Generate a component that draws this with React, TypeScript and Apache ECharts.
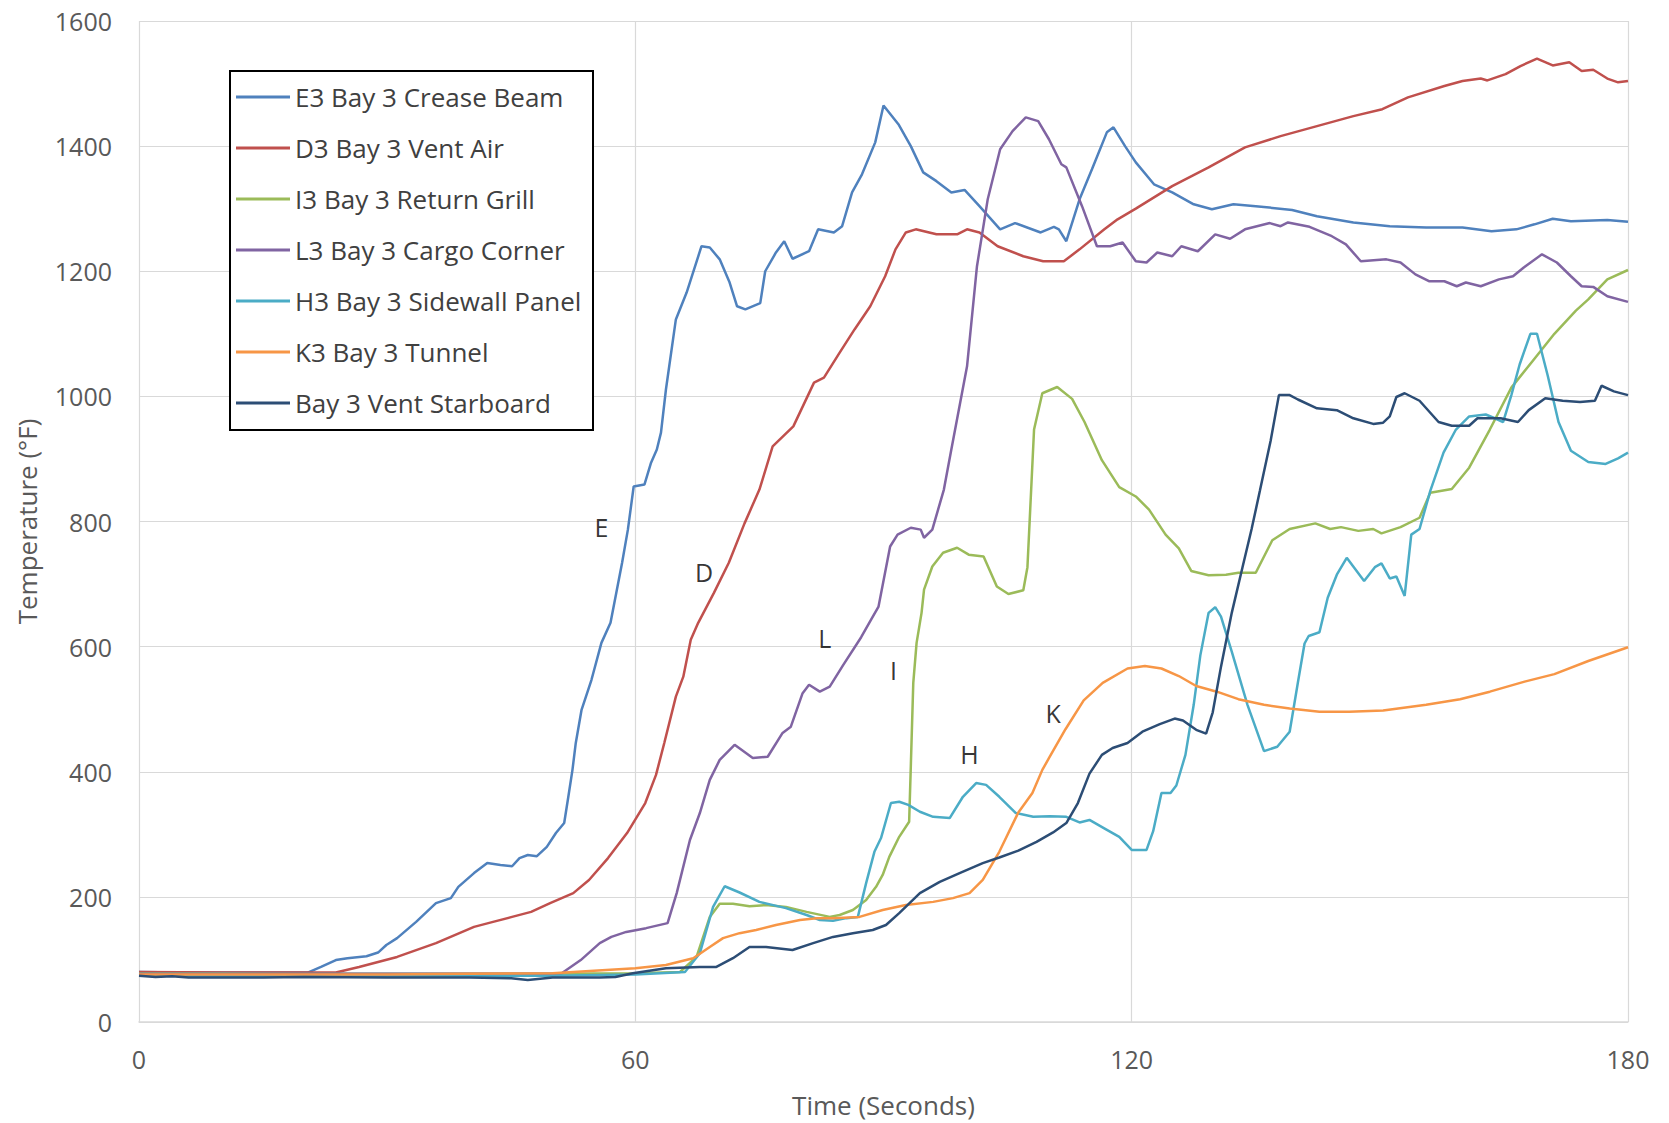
import React, { useEffect, useRef } from "react";
import * as echarts from "echarts";

const seriesNames = [
  "E3 Bay 3 Crease Beam",
  "D3 Bay 3 Vent Air",
  "I3 Bay 3 Return Grill",
  "L3 Bay 3 Cargo Corner",
  "H3 Bay 3 Sidewall Panel",
  "K3 Bay 3 Tunnel",
  "Bay 3 Vent Starboard",
];
const seriesColors = ["#4F81BD", "#C0504D", "#9BBB59", "#8064A2", "#4BACC6", "#F79646", "#2C4D75"];

const xTicks = [0, 60, 120, 180];
const yTicks = [0, 200, 400, 600, 800, 1000, 1200, 1400, 1600];

const e3 = [[0,80],[5,79],[10,79],[15,79],[20.4,79],[22,88],[23.8,99],[25.2,102],[27.5,105],[28.9,111],[29.9,123],[31.2,134],[33.5,160],[35.9,190],[37.7,198],[38.6,216],[40.5,238],[42.1,254],[43.7,251],[45.1,249],[46,262],[47,267],[48.1,265],[49.3,280],[50.4,302],[51.4,318],[51.9,360],[52.4,403],[52.8,446],[53.5,499],[54.7,547],[55.9,606],[57,638],[57.7,686],[58.4,734],[59.1,787],[59.8,856],[61.1,859],[61.9,894],[62.6,915],[63.1,942],[63.7,1011],[64.9,1123],[66.2,1166],[68,1240],[69,1238],[70.2,1219],[71.4,1182],[72.3,1144],[73.3,1139],[75.1,1149],[75.7,1200],[77,1230],[78,1248],[79,1220],[81,1232],[82.1,1267],[84,1262],[85,1272],[86.2,1326],[87.4,1355],[89,1406],[90,1465],[91.8,1435],[93.3,1400],[94.8,1358],[96.4,1344],[98.2,1326],[99.8,1330],[101.6,1304],[104.1,1267],[105.9,1277],[109,1262],[110.6,1271],[111.2,1267],[112.1,1248],[113.7,1315],[115.2,1363],[117,1422],[117.8,1430],[119.2,1400],[120.5,1374],[122.7,1339],[124.9,1326],[127.5,1307],[129.7,1299],[132.3,1307],[135,1304],[139.4,1298],[142.4,1288],[146.8,1278],[151.2,1272],[155.6,1270],[160,1270],[163.5,1264],[166.5,1267],[168.7,1275],[170.9,1284],[173.1,1280],[177.5,1282],[180,1279]];

const d3 = [[0,80],[10,79],[20,79],[23.8,79],[26.6,88],[31.2,104],[35.9,126],[40.5,152],[42.8,160],[45.1,168],[47.4,176],[49.7,190],[52.5,206],[54.4,227],[56.7,262],[59,302],[61.2,350],[62.5,395],[63.5,446],[64.9,520],[65.8,552],[66.7,611],[67.6,638],[69.5,686],[71.3,734],[73.2,797],[75,851],[76.6,920],[79.1,952],[81.6,1022],[82.8,1030],[84.7,1070],[86.5,1107],[88.4,1144],[90.2,1192],[91.45,1235],[92.7,1262],[93.9,1267],[96.4,1259],[98.9,1259],[100.1,1267],[101.6,1262],[103.8,1240],[106.9,1224],[109.3,1216],[111.8,1216],[113.7,1235],[116.7,1267],[118.3,1283],[120.5,1300],[124.9,1336],[129.3,1366],[133.7,1398],[138,1416],[142.4,1432],[146.8,1448],[150.3,1459],[153.4,1478],[157.8,1496],[160,1504],[162.2,1508],[163,1505],[165.2,1515],[167,1528],[169,1540],[170.9,1529],[172.9,1534],[174.4,1520],[175.8,1522],[177.5,1508],[178.8,1502],[180,1504]];

const i3 = [[0,78],[10,78],[20,77],[30,77],[40,77],[50,77],[60,78],[65.4,80],[67.4,104],[69,168],[70.2,189],[71.8,189],[73.8,185],[75.8,187],[78.2,184],[80.7,176],[83.5,168],[84.7,171],[86.3,179],[87.9,195],[89.1,216],[89.9,235],[90.7,264],[91.9,296],[93.1,320],[93.3,408],[93.6,542],[94,606],[94.6,654],[94.9,691],[95.9,728],[97.2,750],[98.9,758],[100.3,747],[102.1,744],[103.7,696],[105.1,684],[106.9,690],[107.4,727],[108.2,947],[109.2,1005],[111,1015],[112.8,996],[114.3,959],[116.4,898],[118.5,855],[120.5,840],[122.1,819],[124.1,779],[125.7,757],[127.2,721],[129.3,714],[131.4,715],[132.9,718],[135,718],[137,770],[139.1,788],[142.2,797],[144,788],[145.3,791],[147.4,785],[149.2,788],[150.2,781],[152.5,791],[154.8,806],[156.1,846],[158.7,852],[160.8,886],[163.3,947],[165.9,1014],[168.5,1057],[171.1,1100],[173.7,1137],[175.2,1155],[177.5,1187],[180,1202]];

const l3 = [[0,77],[10,77],[20,77],[30,77],[40,77],[50,77],[51.1,78],[53.4,99],[55.7,126],[57.1,136],[58.9,144],[61.3,150],[63.9,158],[65,206],[66.6,291],[67.8,334],[69,387],[70.2,419],[72,443],[74.2,422],[76,424],[77.8,462],[78.8,472],[80.2,525],[81,539],[82.3,528],[83.5,536],[85.1,570],[87.3,615],[88.5,643],[89.4,664],[90.8,760],[91.7,779],[93.3,790],[94.5,787],[94.9,774],[95.9,787],[97.3,851],[98.2,915],[100.1,1048],[101.3,1208],[102.6,1315],[104.1,1395],[105.6,1424],[107.2,1446],[108.7,1440],[110,1411],[111.5,1371],[112.1,1366],[114,1304],[115.8,1240],[117.4,1240],[118.9,1246],[120.5,1216],[121.8,1214],[123.1,1230],[124.9,1224],[126,1240],[128,1232],[130.1,1259],[131.9,1252],[133.7,1267],[136.7,1277],[138,1272],[138.9,1278],[141.5,1271],[144.2,1256],[145.9,1243],[147.7,1216],[150.8,1219],[152.5,1214],[154.3,1195],[156,1184],[157.8,1184],[159.3,1176],[160.4,1182],[162.2,1176],[164.4,1187],[166.1,1192],[167.4,1206],[169.6,1227],[171.4,1214],[173.1,1192],[174.4,1176],[175.8,1175],[177.5,1160],[180,1151]];

const h3 = [[0,74],[10,74],[20,74],[30,74],[40,74],[50,74],[60,76],[66,80],[67.8,110],[69.4,184],[70.8,217],[72.6,207],[75,192],[78.2,182],[80.7,171],[82.3,163],[83.9,162],[85.5,166],[86.9,168],[87.9,222],[88.9,272],[89.7,294],[90.9,350],[91.9,352],[93,347],[94.4,336],[96,328],[98,326],[99.6,360],[101.2,382],[102.4,379],[104,360],[106,334],[108.1,328],[110.1,329],[112.1,328],[113.7,319],[114.9,323],[116.9,308],[118.5,296],[120,275],[121.8,275],[122.6,305],[123.6,366],[124.7,366],[125.4,378],[126.5,427],[127.5,507],[128.3,586],[129.3,654],[130.1,663],[130.8,648],[132.1,592],[134,507],[136,433],[137.6,440],[139.1,464],[140.1,543],[140.9,605],[141.4,617],[142.7,623],[143.7,678],[144.8,715],[146,742],[148.1,705],[149.4,727],[150.2,733],[151.2,709],[152,712],[153,681],[153.8,779],[154.8,788],[156.1,849],[157.7,910],[159.2,947],[160.8,968],[162.8,971],[163.9,965],[164.9,959],[165.9,1002],[166.9,1051],[168.2,1100],[169,1100],[170.3,1033],[171.6,959],[173.1,913],[175.2,895],[177.3,892],[178.8,901],[180,910]];

const k3 = [[0,76],[10,76],[20,76],[30,76],[40,77],[50,78],[55,82],[60,86],[63.7,91],[67,102],[69,120],[70.6,134],[72.6,142],[74.6,147],[77,155],[79.9,163],[81.9,166],[83.9,166],[87.1,168],[89.9,179],[92.7,187],[96,192],[98.4,198],[100.4,206],[102,227],[104,272],[106.3,335],[108,366],[109.2,403],[110.1,424],[112,468],[114.2,514],[116.5,542],[119.5,565],[121.6,569],[123.6,565],[125.7,553],[127.8,537],[130.3,528],[132.9,516],[136,507],[139.1,501],[142.7,496],[146.3,496],[150.4,498],[155.6,507],[159.7,516],[163.3,528],[167.5,544],[171.1,556],[175.2,577],[180,599]];

const vent = [[0,74],[2,72],[4,73],[6,71],[10,71],[15,71],[20,72],[30,71],[40,71],[45,70],[47,67],[50,71],[55.7,71],[57.6,72],[59.7,78],[63.7,86],[67.8,88],[69.8,88],[71.8,102],[73.8,120],[75.8,120],[79,115],[81.5,126],[83.9,136],[86.3,142],[88.7,147],[90.3,155],[91.9,174],[94.4,206],[96.8,224],[99.2,238],[102,254],[104,263],[106.3,274],[108.5,288],[110.5,303],[112.1,318],[113.5,350],[114.9,397],[116.4,427],[117.7,438],[119.5,446],[121.3,464],[123.4,476],[125.2,485],[126.2,482],[127.8,467],[129,461],[129.8,495],[130.8,568],[132.1,654],[133.4,727],[134.5,788],[135.5,849],[136.8,929],[137.8,1002],[139.1,1002],[140.1,995],[142.4,981],[144.8,978],[146.8,965],[149.2,956],[150.4,958],[151.2,968],[152,999],[153,1005],[154.8,993],[157.1,959],[158.7,953],[160.8,953],[161.8,965],[164.6,965],[166.7,959],[168,978],[170,997],[172.1,993],[174.2,991],[176,993],[176.8,1017],[178.3,1008],[180,1002]];

const seriesData = [e3, d3, i3, l3, h3, k3, vent];

const letterNames = ["E", "D", "L", "I", "H", "K"];
const letterPoints = [[55.9, 792], [68.3, 720], [82.9, 613], [91.2, 562], [100.4, 429], [110.5, 494]];

const FONT = "'Open Sans', 'Noto Sans', sans-serif";

export default function App() {
  const ref = useRef<HTMLDivElement>(null);
  useEffect(() => {
    document.body.style.margin = "0";
    const chart = echarts.init(ref.current as HTMLDivElement, null, { renderer: "svg" });
    const lines = seriesNames.map((name, i) => ({
      name,
      type: "line",
      data: seriesData[i],
      symbol: "none",
      showSymbol: false,
      smooth: false,
      lineStyle: { color: seriesColors[i], width: 2.5 },
      itemStyle: { color: seriesColors[i] },
      z: 2,
    }));
    chart.setOption({
      animation: false,
      backgroundColor: "#ffffff",
      textStyle: { fontFamily: FONT },
      grid: { left: 139, right: 41, top: 21, bottom: 101, containLabel: false },
      xAxis: {
        type: "value",
        min: xTicks[0],
        max: xTicks[xTicks.length - 1],
        interval: 60,
        name: "Time (Seconds)",
        nameLocation: "middle",
        nameGap: 70,
        nameTextStyle: { fontSize: 26, color: "#595959", fontFamily: FONT },
        axisLine: { show: true, lineStyle: { color: "#d9d9d9", width: 1.5 } },
        axisTick: { show: false },
        axisLabel: { fontSize: 25, color: "#595959", margin: 24, fontFamily: FONT },
        splitLine: { show: true, lineStyle: { color: "#d9d9d9", width: 1.2 } },
      },
      yAxis: {
        type: "value",
        min: yTicks[0],
        max: yTicks[yTicks.length - 1],
        interval: 200,
        name: "Temperature (°F)",
        nameLocation: "middle",
        nameRotate: 90,
        nameGap: 99,
        nameTextStyle: { fontSize: 26, color: "#595959", fontFamily: FONT },
        axisLine: { show: false },
        axisTick: { show: false },
        axisLabel: {
          fontSize: 25,
          color: "#595959",
          margin: 27,
          fontFamily: FONT,
          formatter: (v: number) => String(v),
        },
        splitLine: { show: true, lineStyle: { color: "#d9d9d9", width: 1.2 } },
      },
      legend: {
        data: seriesNames,
        orient: "vertical",
        left: 236,
        top: 82,
        padding: 0,
        icon: "rect",
        itemWidth: 54,
        itemHeight: 3,
        itemGap: 21,
        textStyle: { fontSize: 26, color: "#404040", lineHeight: 30, fontFamily: FONT },
        z: 10,
      },
      graphic: [
        {
          type: "rect",
          shape: { x: 230, y: 71, width: 363, height: 359 },
          style: { fill: "#ffffff", stroke: "#000000", lineWidth: 2 },
          z: 9,
        },
      ],
      series: [
        ...lines,
        {
          name: "labels",
          type: "scatter",
          data: letterPoints.map((p, i) => ({ value: p, name: letterNames[i] })),
          symbolSize: 1,
          itemStyle: { color: "rgba(0,0,0,0)" },
          label: {
            show: true,
            position: "inside",
            formatter: "{b}",
            fontSize: 25,
            color: "#000000",
            fontFamily: FONT,
          },
          z: 3,
        },
      ],
    });
    return () => chart.dispose();
  }, []);
  return <div ref={ref} style={{ width: 1669, height: 1123 }} />;
}
